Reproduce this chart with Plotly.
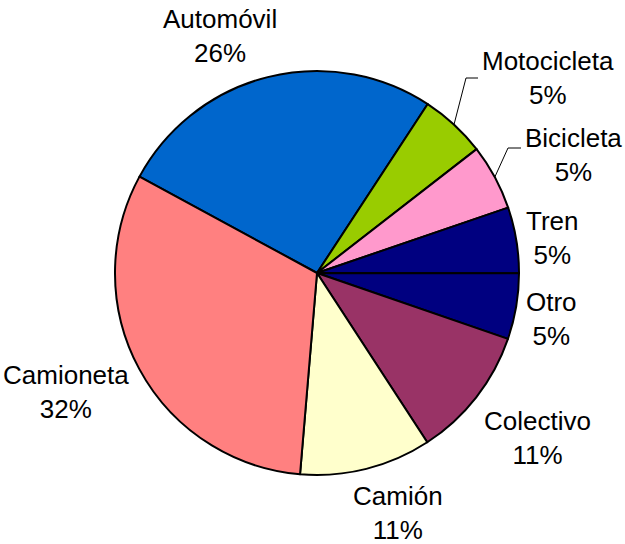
import math
import plotly.graph_objects as go

categories = ['Automóvil', 'Motocicleta', 'Bicicleta', 'Tren', 'Otro', 'Colectivo', 'Camión', 'Camioneta']
counts = [5, 1, 1, 1, 1, 2, 2, 6]
colors = ['#0066CC', '#99CC00', '#FF99CC', '#000080', '#000080', '#993366', '#FFFFCC', '#FF8080']

W, H = 625, 544
ROT = -61.5
CX, CY, R = 317, 273, 202  # pie centre / radius in pixels

# where each label block sits (centre of the two text lines)
label_pos = {
    'Automóvil': (220, 36),
    'Motocicleta': (548, 78),
    'Bicicleta': (573, 155),
    'Tren': (552, 238),
    'Otro': (551, 319),
    'Colectivo': (537, 438),
    'Camión': (398, 513),
    'Camioneta': (66, 392),
}
# elbow of leader line for the labels that have one
leaders = {
    'Motocicleta': [(466, 78), (478, 78)],
    'Bicicleta': [(508, 148), (521, 148)],
}


def px(x, y):
    return x / W, 1 - y / H


total = sum(counts)
pct = [round(100 * c / total) for c in counts]

fig = go.Figure(go.Pie(
    labels=categories,
    values=counts,
    sort=False,
    direction='clockwise',
    rotation=ROT,
    marker=dict(colors=colors, line=dict(color='black', width=2)),
    textinfo='none',
    hoverinfo='label+percent',
    domain=dict(x=[(CX - R) / W, (CX + R) / W],
                y=[1 - (CY + R) / H, 1 - (CY - R) / H]),
    showlegend=False,
))

cum = 0
for name, c, p in zip(categories, counts, pct):
    mid = ROT + 360 * (cum + c / 2) / total
    cum += c
    x, y = px(*label_pos[name])
    fig.add_annotation(
        x=x, y=y, xref='paper', yref='paper',
        text=f'{name}<br>{p}%', showarrow=False,
        xanchor='center', yanchor='middle',
        font=dict(family='Liberation Sans, Arial', size=26, color='black'),
    )
    if name in leaders:
        a = math.radians(mid)
        pts = [(CX + R * math.sin(a), CY - R * math.cos(a))] + leaders[name]
        pp = [px(*q) for q in pts]
        path = 'M ' + ' L '.join(f'{u},{v}' for u, v in pp)
        fig.add_shape(type='path', path=path, xref='paper', yref='paper',
                      line=dict(color='black', width=1))

fig.update_layout(
    width=W,
    height=H,
    margin=dict(l=0, r=0, t=0, b=0),
    paper_bgcolor='white',
    plot_bgcolor='white',
)

fig.write_html("out.html", config={'displayModeBar': False},
               post_script="document.body.style.margin='0';")
